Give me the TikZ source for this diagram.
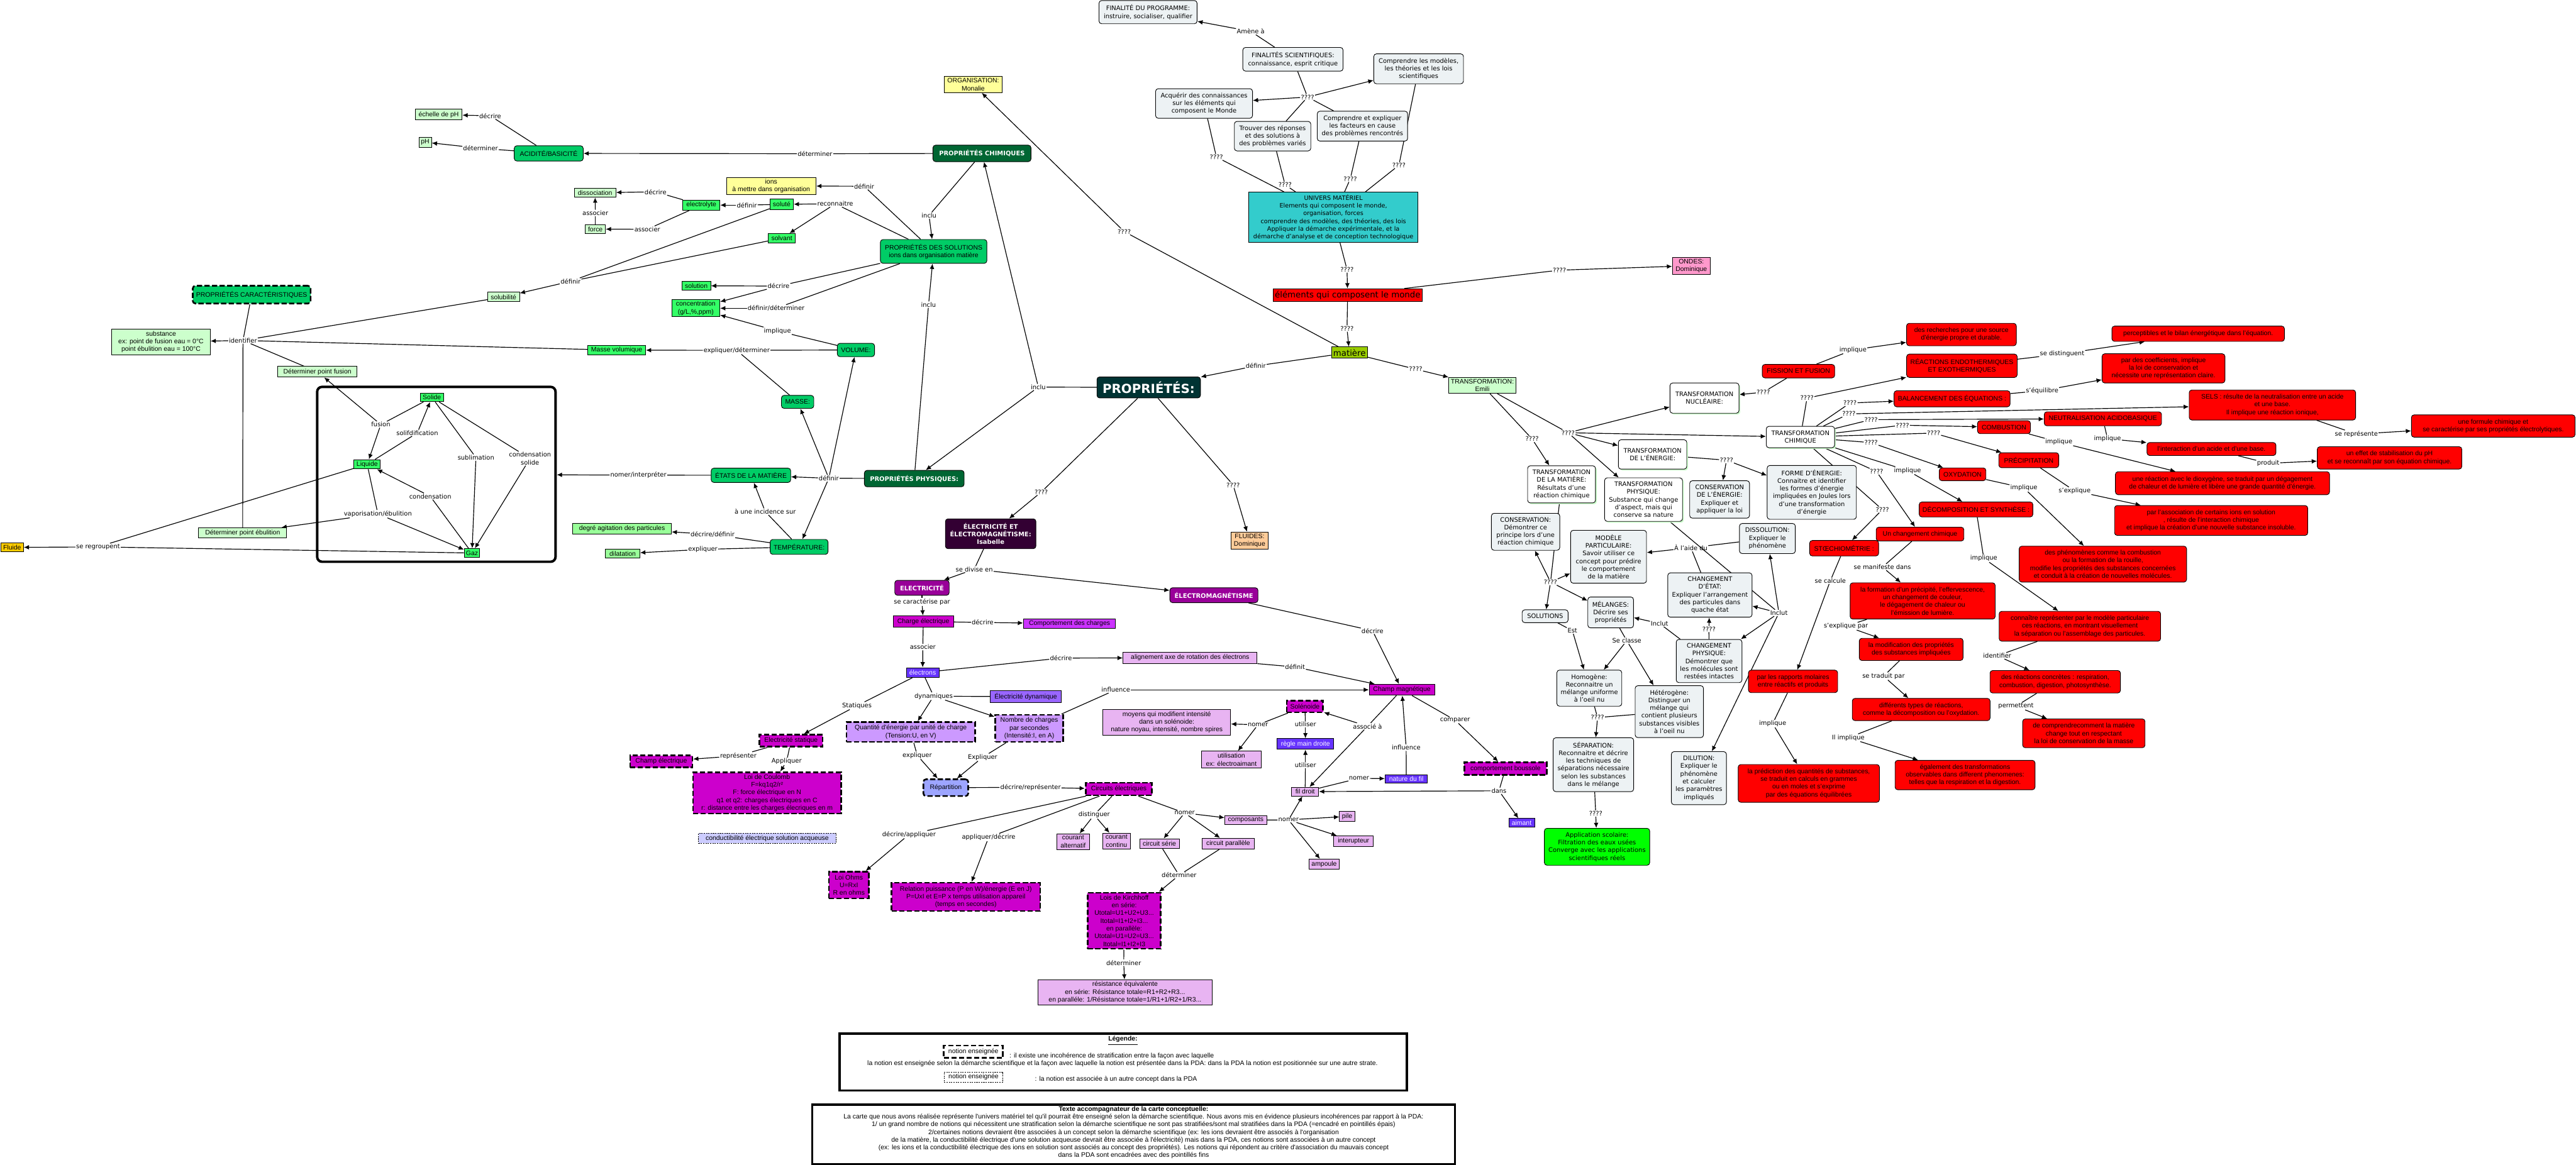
\documentclass[tikz,border=0pt]{standalone}
\usepackage{fontspec}
\setmainfont{DejaVu Sans}
\newfontfamily\arl{Liberation Sans}
\usetikzlibrary{arrows.meta,backgrounds,shadows}

\newcommand\mapfont{\fontsize{3.8}{4.7}\selectfont}
\newcommand\colfont{\arl\fontsize{4.0}{4.7}\selectfont}

\definecolor{cPale}{HTML}{CCFFCC}
\definecolor{cMint}{HTML}{99FF99}
\definecolor{cVivid}{HTML}{33FF66}
\definecolor{cLeaf}{HTML}{00CC66}
\definecolor{cForest}{HTML}{006633}
\definecolor{cAbyss}{HTML}{003333}
\definecolor{cLagoon}{HTML}{33CCCC}
\definecolor{cGrey}{HTML}{EDF2F4}
\definecolor{cCream}{HTML}{FFFF99}
\definecolor{cRose}{HTML}{FF99CC}
\definecolor{cPeach}{HTML}{FFCC99}
\definecolor{cMoss}{HTML}{99CC00}
\definecolor{cAmber}{HTML}{FFCC00}
\definecolor{cScarlet}{HTML}{FF0000}
\definecolor{cAuber}{HTML}{330033}
\definecolor{cGrape}{HTML}{990099}
\definecolor{cOrchid}{HTML}{CC00CC}
\definecolor{cIris}{HTML}{6633FF}
\definecolor{cHelio}{HTML}{CC33FF}
\definecolor{cAmeth}{HTML}{9966FF}
\definecolor{cLilac}{HTML}{CC99FF}
\definecolor{cMauve}{HTML}{E8B4F2}
\definecolor{cPeri}{HTML}{9DA5FF}
\definecolor{cMist}{HTML}{CCCCFF}
\definecolor{cSprout}{HTML}{00FF00}

\tikzset{
  box/.style={draw,line width=0.35pt,inner sep=0.6pt,align=center,font=\colfont},
  note/.style={box,rounded corners=1.6pt,fill=cGrey,font=\mapfont},
  tnode/.style={note,fill=white,drop shadow={shadow xshift=0.8pt,shadow yshift=-0.8pt,fill=cPale,opacity=1}},
  lbl/.style={inner sep=0.3pt,align=center,font=\mapfont},
  rnd/.style={rounded corners=1.6pt},
  wh/.style 2 args={minimum width=#1pt,minimum height=#2pt},
  tdash/.style={line width=1pt,dash pattern=on 3.2pt off 1.4pt},
  fdash/.style={dash pattern=on 0.8pt off 0.6pt},
  lite/.style={text=white,font=\mapfont\bfseries},
  ln/.style={line width=0.45pt},
  ar/.style={ln,-{Latex[length=3.2pt,width=2.8pt]}},
  pale/.style={box,fill=cPale}, mint/.style={box,fill=cMint},
  vivid/.style={box,fill=cVivid}, leaf/.style={box,rnd,fill=cLeaf},
  forest/.style={box,rnd,fill=cForest,lite}, abyss/.style={box,rnd,fill=cAbyss,lite},
  lagoon/.style={box,fill=cLagoon,font=\mapfont}, cream/.style={box,fill=cCream},
  rose/.style={box,fill=cRose}, peach/.style={box,fill=cPeach},
  moss/.style={box,fill=cMoss}, amber/.style={box,fill=cAmber},
  scarlet/.style={box,rnd,fill=cScarlet}, aubergine/.style={box,rnd,fill=cAuber,lite},
  grape/.style={box,rnd,fill=cGrape,lite}, orchid/.style={box,fill=cOrchid},
  iris/.style={box,fill=cIris,text=white}, helio/.style={box,fill=cHelio},
  amethyst/.style={box,fill=cAmeth}, lilac/.style={box,fill=cLilac},
  mauve/.style={box,fill=cMauve}, peri/.style={box,fill=cPeri},
  mist/.style={box,fill=cMist}, sprout/.style={box,rnd,fill=cSprout,font=\mapfont},
}

\begin{document}
\begin{tikzpicture}[x=1pt,y=-1pt]
  \useasboundingbox (0,0) rectangle (1568,709);

  % univers materiel
  \node[note,wh={59.7}{14.1}] (fpro) at (698.8,7.4) {FINALITÉ DU PROGRAMME:\\instruire, socialiser, qualifier};
  \node[note,wh={61}{14.4}] (fsci) at (787,36.1) {FINALITÉS SCIENTIFIQUES:\\connaissance, esprit critique};
  \node[note,wh={59}{18}] (acq) at (732.9,63) {Acquérir des connaissances\\sur les éléments qui\\composent le Monde};
  \node[note,wh={46.5}{18}] (trouv) at (774.6,82.9) {Trouver des réponses\\et des solutions à\\des problèmes variés};
  \node[note,wh={54.6}{18.2}] (cmod) at (863.5,41.9) {Comprendre les modèles,\\les théories et les lois\\scientifiques};
  \node[note,wh={55}{18.2}] (cexp) at (829.3,76.8) {Comprendre et expliquer\\les facteurs en cause\\des problèmes rencontrés};
  \node[lagoon,font=\fontsize{3.7}{4.7}\selectfont,wh={103}{30.6}] (univ) at (811.6,132.3) {UNIVERS MATÉRIEL\\Elements qui composent le monde,\\organisation, forces\\comprendre des modèles, des théories, des lois\\Appliquer la démarche expérimentale, et la\\démarche d'analyse et de conception technologique};
  \node[box,fill=cScarlet,font=\fontsize{5.1}{6}\selectfont,wh={91}{7.8}] (elem) at (820.3,179.7) {éléments qui composent le monde};
  \node[rose,wh={23}{10.4}] (ondes) at (1029.5,161.8) {ONDES:\\Dominique};
  \node[moss,font=\fontsize{5.1}{6}\selectfont,wh={22}{6.9}] (mat) at (821.4,214.7) {matière};
  \node[cream,wh={35.3}{9.8}] (orga) at (592.4,51.5) {ORGANISATION:\\Monalie};

  % proprietes chimiques et solutions
  \node[forest,wh={59.7}{10}] (pchim) at (597.7,93.4) {PROPRIÉTÉS CHIMIQUES};
  \node[leaf,wh={42}{9.3}] (acid) at (334,93.4) {ACIDITÉ/BASICITÉ};
  \node[pale,wh={28.6}{6.5}] (echph) at (267,69.8) {échelle de pH};
  \node[pale,wh={7.7}{6}] (ph) at (258.8,86.6) {pH};
  \node[cream,wh={54.5}{10.4}] (ions) at (469.4,113.2) {ions\\à mettre dans organisation};
  \node[vivid,wh={22.7}{6.2}] (elec) at (426.9,124.9) {electrolyte};
  \node[vivid,wh={14.3}{6.2}] (solute) at (475.8,124.4) {soluté};
  \node[vivid,wh={16.5}{5.6}] (solvant) at (475.9,145) {solvant};
  \node[pale,wh={25.3}{5.3}] (diss) at (362.2,117.4) {dissociation};
  \node[pale,wh={12.3}{5.1}] (force) at (362.4,139.5) {force};
  \node[leaf,wh={64.8}{14.5}] (psol) at (568.3,153.1) {PROPRIÉTÉS DES SOLUTIONS\\ions dans organisation matière};
  \node[pale,wh={19.4}{5.7}] (solubi) at (306.5,180.8) {solubilité};
  \node[vivid,wh={17.6}{5.4}] (solution) at (423.8,174) {solution};
  \node[vivid,wh={29.3}{10.4}] (conc) at (423.5,187.7) {concentration\\(g/L,\%,ppm)};
  \node[leaf,wh={22.7}{8.1}] (volume) at (521,213.1) {VOLUME:};
  \node[vivid,wh={35.2}{5.6}] (mvol) at (375.4,213.2) {Masse volumique};
  \node[leaf,tdash,wh={71.7}{10.8}] (pcar) at (153.2,179.4) {PROPRIÉTÉS CARACTÉRISTIQUES};
  \node[pale,wh={60}{15.6}] (subst) at (98,208.2) {substance\\ex: point de fusion eau = 0°C\\point ébulition eau = 100°C};
  \node[pale,wh={48.3}{6.5}] (dpf) at (193.2,226.4) {Déterminer point fusion};
  \node[pale,wh={53.5}{6.3}] (dpe) at (147.7,324.5) {Déterminer point ébulition};
  \node[draw,line width=1.5pt,rounded corners=3pt,wh={145.1}{106.5}] (phases) at (265.6,288.8) {};
  \node[vivid,wh={14.2}{5.1}] (solide) at (262.9,242) {Solide};
  \node[vivid,wh={16}{5.7}] (liquide) at (223.5,282.7) {Liquide};
  \node[vivid,wh={9.5}{5.3}] (gaz) at (287.3,336.7) {Gaz};
  \node[amber,wh={13.8}{5.4}] (fluide) at (7.4,333.3) {Fluide};

  % proprietes physiques
  \node[forest,wh={60.7}{10}] (pphys) at (556.5,291.4) {PROPRIÉTÉS PHYSIQUES:};
  \node[abyss,font=\fontsize{7.6}{9}\selectfont\bfseries,wh={63}{12.8}] (props) at (699.2,235.9) {PROPRIÉTÉS:};
  \node[leaf,wh={19.7}{7.9}] (masse) at (485.5,244.7) {MASSE:};
  \node[leaf,wh={48.4}{8.7}] (etats) at (457.1,289.4) {ÉTATS DE LA MATIÈRE};
  \node[leaf,wh={35.2}{9.1}] (temp) at (486.4,333) {TEMPÉRATURE:};
  \node[mint,wh={60.1}{6.5}] (degre) at (378.6,322) {degré agitation des particules};
  \node[mint,wh={20.9}{5.3}] (dilat) at (379,337.1) {dilatation};

  % electricite et electromagnetisme
  \node[aubergine,wh={55.1}{18.2}] (eem) at (603,325) {ÉLECTRICITÉ ET\\ÉLECTROMAGNÉTISME:\\Isabelle};
  \node[peach,wh={22.9}{10.3}] (fluides) at (760.6,329.1) {FLUIDES:\\Dominique};
  \node[grape,wh={33.1}{9.1}] (electr) at (561.2,357.9) {ELECTRICITÉ};
  \node[grape,wh={53.6}{9.1}] (emag) at (738.9,362.4) {ÉLECTROMAGNÉTISME};
  \node[orchid,wh={36.7}{6.9}] (charge) at (562,378.4) {Charge électrique};
  \node[helio,wh={56.1}{6}] (comport) at (651,379.7) {Comportement des charges};
  \node[iris,wh={19.9}{5.9}] (elecs) at (561.6,409.5) {électrons};
  \node[mauve,wh={81.6}{6.9}] (align) at (724.4,400.5) {alignement axe de rotation des électrons};
  \node[orchid,wh={39.8}{6.7}] (champm) at (853.3,420) {Champ magnétique};
  \node[orchid,tdash,wh={38.5}{7.3}] (stat) at (481.5,451) {Electricité statique};
  \node[amethyst,wh={43.4}{7.3}] (edyn) at (624.4,424.2) {Électricité dynamique};
  \node[lilac,tdash,wh={78.2}{12.1}] (quant) at (554.4,445.7) {Quantité d'énergie par unité de charge\\(Tension:U, en V)};
  \node[lilac,tdash,wh={41.3}{16.5}] (nomb) at (626.5,443.5) {Nombre de charges\\par secondes\\(Intensité:I, en A)};
  \node[orchid,tdash,wh={37.8}{7.3}] (champe) at (402.5,463.6) {Champ électrique};
  \node[orchid,tdash,wh={90}{25}] (coul) at (466.9,482.8) {Loi de Coulomb\\F=kq1q2/r²\\F: force électrique en N\\q1 et q2: charges électriques en C\\r: distance entre les charges élecriques en m};
  \node[mist,fdash,wh={83.6}{6.1}] (cond) at (467,510.4) {conductibilité électrique solution acqueuse};
  \node[peri,rnd,tdash,wh={27.3}{10.2}] (repart) at (575.7,479.6) {Répartition};
  \node[orchid,tdash,wh={40.3}{7.7}] (circ) at (681,480.4) {Circuits électriques};
  \node[orchid,tdash,wh={24.4}{16.3}] (ohm) at (516.7,538.9) {Loi Ohms\\U=RxI\\R en ohms};
  \node[orchid,tdash,wh={90.4}{17.2}] (puis) at (587.9,546.1) {Relation puissance (P en W)/énergie (E en J)\\P=UxI et E=P x temps utilisation appareil\\(temps en secondes)};
  \node[mauve,wh={19.9}{9.7}] (calt) at (653.2,512.5) {courant\\alternatif};
  \node[mauve,wh={16.7}{9.7}] (ccont) at (679.6,512.1) {courant\\continu};
  \node[mauve,wh={25.5}{5.5}] (compo) at (758.3,499.4) {composants};
  \node[mauve,wh={24.1}{6}] (cser) at (705.7,513.7) {circuit série};
  \node[mauve,wh={31.9}{6.7}] (cpar) at (747.6,513.7) {circuit parallèle};
  \node[orchid,tdash,wh={44.5}{34.1}] (kirch) at (684.3,560.6) {Lois de Kirchhoff\\en série:\\Utotal=U1+U2+U3...\\Itotal=I1+I2+I3...\\en parallèle:\\Utotal=U1=U2=U3...\\Itotal=I1+I2+I3};
  \node[mauve,wh={106}{15.2}] (resist) at (684.8,604.2) {résistance équivalente\\en série: Résistance totale=R1+R2+R3...\\en paralléle: 1/Résistance totale=1/R1+1/R2+1/R3...};
  \node[mauve,wh={9.3}{6}] (pile) at (820,497.1) {pile};
  \node[mauve,wh={24.1}{6.3}] (inter) at (823.9,512.1) {interupteur};
  \node[mauve,wh={18.6}{6}] (ampoule) at (806,526.1) {ampoule};
  \node[mauve,wh={16.5}{5.3}] (fil) at (794.4,482) {fil droit};
  \node[iris,wh={34.4}{6.5}] (regle) at (794.6,453) {règle main droite};
  \node[orchid,tdash,wh={22.1}{7.1}] (solen) at (794.3,430.1) {Solénoide};
  \node[iris,wh={25.8}{5}] (natfil) at (856,474.2) {nature du fil};
  \node[orchid,tdash,wh={50.2}{7.7}] (boussole) at (916.4,468) {comportement boussole};
  \node[iris,wh={15.7}{5.3}] (aimant) at (926.2,501) {aimant};
  \node[mauve,wh={77.8}{15.7}] (moyens) at (710.2,439.7) {moyens qui modifient intensité\\dans un solénoide:\\nature noyau, intensité, nombre spires};
  \node[mauve,wh={36.6}{10.2}] (util) at (749.5,462.5) {utilisation\\ex: électroaimant};

  % transformations
  \node[pale,wh={41}{9.7}] (temi) at (902.3,234.7) {TRANSFORMATION:\\Emili};
  \node[tnode,wh={42}{18.4}] (tnuc) at (1037.5,242.4) {TRANSFORMATION\\NUCLÉAIRE:};
  \node[tnode,wh={41.6}{13}] (tchim) at (1095.9,266.1) {TRANSFORMATION\\CHIMIQUE};
  \node[tnode,wh={41.6}{17.9}] (tener) at (1005.9,276.7) {TRANSFORMATION\\DE L'ÉNERGIE:};
  \node[tnode,wh={41.3}{22.6}] (tmat) at (950.5,294.9) {TRANSFORMATION\\DE LA MATIÈRE:\\Résultats d'une\\réaction chimique};
  \node[tnode,wh={47.4}{26.5}] (tphys) at (1000.4,304.2) {TRANSFORMATION\\PHYSIQUE:\\Substance qui change\\d'aspect, mais qui\\conserve sa nature};
  \node[note,wh={36.4}{22.8}] (consE) at (1046.7,304.1) {CONSERVATION\\DE L'ÉNERGIE:\\Expliquer et\\appliquer la loi};
  \node[note,wh={54.3}{32.8}] (forme) at (1102.8,299.8) {FORME D'ÉNERGIE:\\Connaitre et identifier\\les formes d'énergie\\impliquées en Joules lors\\d'une transformation\\d'énergie};
  \node[note,wh={41.6}{22.5}] (consv) at (928.6,323.8) {CONSERVATION:\\Démontrer ce\\principe lors d'une\\réaction chimique};
  \node[note,wh={46.2}{32.2}] (modele) at (979.1,339) {MODÈLE\\PARTICULAIRE:\\Savoir utiliser ce\\concept pour prédire\\le comportement\\de la matière};
  \node[note,wh={34}{18.3}] (dissol) at (1075.8,327.9) {DISSOLUTION:\\Expliquer le\\phénomène};
  \node[note,wh={51.3}{27}] (chetat) at (1040.8,362.3) {CHANGEMENT\\D'ÉTAT:\\Expliquer l'arrangement\\des particules dans\\quache état};
  \node[note,wh={28}{7.8}] (solus) at (940.5,375.2) {SOLUTIONS};
  \node[note,wh={27.8}{18.8}] (melang) at (980.4,372.9) {MÉLANGES:\\Décrire ses\\propriétés};
  \node[note,wh={40}{26.3}] (chphys) at (1040.3,402.5) {CHANGEMENT\\PHYSIQUE:\\Démontrer que\\les molécules sont\\restées intactes};
  \node[note,wh={39.5}{22}] (homog) at (967.4,419) {Homogène:\\Reconnaitre un\\mélange uniforme\\à l'oeil nu};
  \node[note,wh={41.6}{31.6}] (hetero) at (1016.1,433.3) {Hétérogène:\\Distinguer un\\mélange qui\\contient plusieurs\\substances visibles\\à l'oeil nu};
  \node[note,wh={49}{32.8}] (separ) at (969.9,465.6) {SÉPARATION:\\Reconnaitre et décrire\\les techniques de\\séparations nécessaire\\selon les substances\\dans le mélange};
  \node[sprout,wh={64.1}{22.5}] (appli) at (972.1,515.6) {Application scolaire:\\Filtration des eaux usées\\Converge avec les applications\\scientifiques réels};
  \node[note,wh={33.5}{32.3}] (dilut) at (1034.1,473.8) {DILUTION:\\Expliquer le\\phénomène\\et calculer\\les paramètres\\impliqués};

  % transformation chimique
  \node[scarlet,wh={44.1}{8.2}] (fission) at (1094.7,226) {FISSION ET FUSION};
  \node[scarlet,wh={66.8}{13.7}] (rech) at (1193.9,203.7) {des recherches pour une source\\d’énergie propre et durable.};
  \node[scarlet,wh={67.3}{14.2}] (reac) at (1194.2,222.7) {RÉACTIONS ENDOTHERMIQUES\\ET EXOTHERMIQUES};
  \node[scarlet,wh={105}{9.3}] (percep) at (1338,203.2) {perceptibles et le bilan énergétique dans l’équation.};
  \node[scarlet,wh={74.8}{17.8}] (coef) at (1316.9,224.3) {par des coefficients, implique\\la loi de conservation et\\nécessite une représentation claire.};
  \node[scarlet,wh={70.6}{9.8}] (balan) at (1188.2,242.8) {BALANCEMENT DES ÉQUATIONS :};
  \node[scarlet,wh={101.3}{18.3}] (sels) at (1383.2,246.6) {SELS : résulte de la neutralisation entre un acide\\et une base.\\Il implique une réaction ionique,};
  \node[scarlet,wh={71.4}{8.5}] (neutra) at (1280,255) {NEUTRALISATION ACIDOBASIQUE};
  \node[scarlet,wh={32.2}{7.9}] (combu) at (1219.8,260.1) {COMBUSTION};
  \node[scarlet,wh={36.5}{9.1}] (precip) at (1234.9,280.2) {PRÉCIPITATION};
  \node[scarlet,wh={28.4}{7.8}] (oxyd) at (1194.6,288.8) {OXYDATION};
  \node[scarlet,wh={69.2}{9.1}] (decomp) at (1202.8,310.2) {DÉCOMPOSITION ET SYNTHÈSE :};
  \node[scarlet,wh={53.4}{8.4}] (chgt) at (1168.7,325.2) {Un changement chimique};
  \node[scarlet,wh={42}{9.4}] (stoech) at (1122.5,333.8) {STŒCHIOMÉTRIE :};
  \node[scarlet,wh={88.3}{22.1}] (formp) at (1170.3,365.9) {la formation d’un précipité, l’effervescence,\\un changement de couleur,\\le dégagement de chaleur ou\\l’émission de lumière.};
  \node[scarlet,wh={63.2}{13.5}] (modif) at (1163.3,395.4) {la modification des propriétés\\des substances impliquées};
  \node[scarlet,wh={83.9}{13.5}] (types) at (1169.4,432) {différents types de réactions,\\comme la décomposition ou l’oxydation.};
  \node[scarlet,wh={85.2}{17.9}] (egal) at (1196.1,471.9) {également des transformations\\observables dans different phenomenes:\\telles que la respiration et la digestion.};
  \node[scarlet,wh={54.3}{13.7}] (rapp) at (1091.4,414.9) {par les rapports molaires\\entre réactifs et produits};
  \node[scarlet,wh={86}{23}] (predic) at (1101,477) {la prédiction des quantités de substances,\\se traduit en calculs en grammes\\ou en moles et s’exprime\\par des équations équilibrées};
  \node[scarlet,wh={78.5}{7.9}] (interac) at (1346.1,273.4) {l’interaction d’un acide et d’une base.};
  \node[scarlet,wh={88}{13.6}] (effet) at (1454.5,278.8) {un effet de stabilisation du pH\\et se reconnaît par son équation chimique.};
  \node[scarlet,wh={99.6}{13.6}] (formule) at (1517.6,259.4) {une formule chimique et\\se caractérise par ses propriétés électrolytiques.};
  \node[scarlet,wh={130.3}{14}] (oxyg) at (1352.8,294.2) {une réaction avec le dioxygène, se traduit par un dégagement\\de chaleur et de lumière et libère une grande quantité d’énergie.};
  \node[scarlet,wh={117.6}{18.2}] (assoc) at (1345.9,316.9) {par l’association de certains ions en solution\\, résulte de l’interaction chimique\\et implique la création d’une nouvelle substance insoluble.};
  \node[scarlet,wh={101.9}{21.9}] (phenom) at (1280,343.5) {des phénomènes comme la combustion\\ou la formation de la rouille,\\modifie les propriétés des substances concernées\\et conduit à la création de nouvelles molécules.};
  \node[scarlet,wh={98.3}{18.2}] (connai) at (1266,381.3) {connaître représenter par le modèle particulaire\\ces réactions, en montrant visuellement\\la séparation ou l’assemblage des particules.};
  \node[scarlet,wh={79.4}{13.7}] (concr) at (1251,415.1) {des réactions concrètes : respiration,\\combustion, digestion, photosynthèse.};
  \node[scarlet,wh={74.5}{17.5}] (compr) at (1268.4,446.5) {de comprendrecomment la matière\\change tout en respectant\\la loi de conservation de la masse};

  % linking phrases
  \node[lbl] (lamene) at (761.3,19.1) {Amène à};
  \node[lbl] (lq1) at (795.9,59.1) {????};
  \node[lbl] (lq2) at (740.4,95.6) {????};
  \node[lbl] (lq3) at (782.2,112.5) {????};
  \node[lbl] (lq4) at (821.9,108.9) {????};
  \node[lbl] (lq5) at (851.5,100.6) {????};
  \node[lbl] (lq6) at (819.9,164.1) {????};
  \node[lbl] (lq7) at (949.2,164.5) {????};
  \node[lbl] (lq8) at (819.9,200.1) {????};
  \node[lbl] (lq9) at (684.3,141) {????};
  \node[lbl] (ldef0) at (764.4,222.8) {définir};
  \node[lbl] (lq10) at (861.7,224.8) {????};
  \node[lbl] (ldecr1) at (298.4,70.5) {décrire};
  \node[lbl] (ldet1) at (292.5,90.3) {déterminer};
  \node[lbl] (ldet2) at (496.1,93.6) {déterminer};
  \node[lbl] (ldef1) at (526,113.4) {définir};
  \node[lbl] (ldef2) at (454.6,124.9) {définir};
  \node[lbl] (lrec) at (508.4,124.1) {reconnaitre};
  \node[lbl] (ldecr2) at (399,116.8) {décrire};
  \node[lbl] (lass1) at (394,139.6) {associer};
  \node[lbl] (lass2) at (362.4,129.7) {associer};
  \node[lbl] (ldef3) at (347.3,171.3) {définir};
  \node[lbl] (lincl1) at (565.5,131.2) {inclu};
  \node[lbl] (lincl2) at (565.2,185.5) {inclu};
  \node[lbl] (lincl3) at (632,235.7) {inclu};
  \node[lbl] (ldecr3) at (473.9,174.2) {décrire};
  \node[lbl] (ldefdet) at (472.4,187.7) {définir/déterminer};
  \node[lbl] (limpl1) at (473.2,201.5) {implique};
  \node[lbl] (lexpl1) at (448.4,213.3) {expliquer/déterminer};
  \node[lbl] (lident) at (147.9,207.3) {identifier};
  \node[lbl] (lfus) at (231.8,258.5) {fusion};
  \node[lbl] (lsolid) at (254,263.6) {solifdification};
  \node[lbl] (lsubl) at (289.7,278.6) {sublimation};
  \node[lbl] (lconds) at (322.6,279.2) {condensation\\solide};
  \node[lbl] (lcond) at (261.9,302.2) {condensation};
  \node[lbl] (lvap) at (230,312.9) {vaporisation/ébulition};
  \node[lbl] (lregr) at (59.7,333) {se regroupent};
  \node[lbl] (lnomer) at (388.6,289.3) {nomer/interpréter};
  \node[lbl] (ldef4) at (504.5,291.2) {définir};
  \node[lbl] (linc) at (465.8,311.5) {à une incidence sur};
  \node[lbl] (ldecdef) at (433.7,325.4) {décrire/définir};
  \node[lbl] (lexpl2) at (427.8,334.5) {expliquer};
  \node[lbl] (lq11) at (633.8,299.6) {????};
  \node[lbl] (lq12) at (750.6,295.3) {????};
  \node[lbl] (ldiv) at (593,346.6) {se divise en};
  \node[lbl] (lcar) at (561.2,366.6) {se caractérise par};
  \node[lbl] (ldecr4) at (598.1,379) {décrire};
  \node[lbl] (lass3) at (561.7,394) {associer};
  \node[lbl] (ldecr5) at (645.8,400.7) {décrire};
  \node[lbl] (ldefit) at (788.3,406.1) {définit};
  \node[lbl] (ldecr6) at (835.4,384) {décrire};
  \node[lbl] (lstat) at (521.6,429.7) {Statiques};
  \node[lbl] (ldyn) at (568.3,423.9) {dynamiques};
  \node[lbl] (linfl1) at (679.2,420) {influence};
  \node[lbl] (lrepr) at (449.4,460.2) {représenter};
  \node[lbl] (lappl) at (478.8,463.6) {Appliquer};
  \node[lbl] (lexpl3) at (558.3,459.9) {expliquer};
  \node[lbl] (lexpl4) at (598.1,461.1) {Expliquer};
  \node[lbl] (ldecrep) at (627.3,479.4) {décrire/représenter};
  \node[lbl] (ldecapp) at (553.3,508.1) {décrire/appliquer};
  \node[lbl] (lappdec) at (601.8,509.8) {appliquer/décrire};
  \node[lbl] (ldist) at (666,496.2) {distinguer};
  \node[lbl] (lnom1) at (721.1,495) {nomer};
  \node[lbl] (ldet3) at (717.7,532.9) {déterminer};
  \node[lbl] (ldet4) at (684,586.2) {déterminer};
  \node[lbl] (lnom2) at (784.3,499.2) {nomer};
  \node[lbl] (lutil1) at (794.6,465.8) {utiliser};
  \node[lbl] (lutil2) at (794.6,441.1) {utiliser};
  \node[lbl] (lassoc) at (832.4,442.2) {associé à};
  \node[lbl] (lnom3) at (827.2,473.9) {nomer};
  \node[lbl] (linfl2) at (855.9,455.2) {influence};
  \node[lbl] (lcomp) at (885.7,438.5) {comparer};
  \node[lbl] (ldans) at (912.4,481.5) {dans};
  \node[lbl] (lnom4) at (765.7,441.3) {nomer};
  \node[lbl] (lq13) at (1073.3,238.8) {????};
  \node[lbl] (lq14) at (954.5,263.5) {????};
  \node[lbl] (lq15) at (932.6,267.3) {????};
  \node[lbl] (lq16) at (1050.9,280.2) {????};
  \node[lbl] (lq17) at (943.8,354.4) {????};
  \node[lbl] (laide) at (1029.2,333.5) {À l'aide du};
  \node[lbl] (lincl4) at (1082.8,373.2) {Inclut};
  \node[lbl] (lincl5) at (1010.1,379.6) {Inclut};
  \node[lbl] (lq18) at (1040.2,383) {????};
  \node[lbl] (lest) at (957.1,384) {Est};
  \node[lbl] (lclass) at (990.2,390.1) {Se classe};
  \node[lbl] (lq19) at (972.4,436.9) {????};
  \node[lbl] (lq20) at (971.3,495.3) {????};
  \node[lbl] (lq21) at (1099.9,242.4) {????};
  \node[lbl] (lq22) at (1126.1,245.4) {????};
  \node[lbl] (lq23) at (1125.4,252) {????};
  \node[lbl] (lq24) at (1138.9,255.5) {????};
  \node[lbl] (lq25) at (1158,258.9) {????};
  \node[lbl] (lq26) at (1177,263.7) {????};
  \node[lbl] (lq27) at (1138.9,269.5) {????};
  \node[lbl] (limpl2) at (1161.1,286.5) {implique};
  \node[lbl] (lq28) at (1142.2,287.1) {????};
  \node[lbl] (lq29) at (1145.8,310.3) {????};
  \node[lbl] (limpl3) at (1127.9,213) {implique};
  \node[lbl] (ldist2) at (1255.2,215.5) {se distinguent};
  \node[lbl] (lequi) at (1243,237.9) {s’équilibre};
  \node[lbl] (lrepr2) at (1434.3,264.3) {se représente};
  \node[lbl] (limpl4) at (1282.8,267.1) {implique};
  \node[lbl] (lprod) at (1380.6,282.1) {produit};
  \node[lbl] (limpl5) at (1253.2,269.2) {implique};
  \node[lbl] (lexpl5) at (1262.8,298.9) {s’explique};
  \node[lbl] (limpl6) at (1231.9,297.1) {implique};
  \node[lbl] (limpl7) at (1207.5,340) {implique};
  \node[lbl] (lident2) at (1215.7,399.3) {identifier};
  \node[lbl] (lperm) at (1227.1,430) {permettent};
  \node[lbl] (lmanif) at (1145.8,345.3) {se manifeste dans};
  \node[lbl] (lcalc) at (1114.1,353.6) {se calcule};
  \node[lbl] (lexpl6) at (1123.6,381.3) {s’explique par};
  \node[lbl] (ltrad) at (1146.5,411.7) {se traduit par};
  \node[lbl] (limpl8) at (1125,449.2) {Il implique};
  \node[lbl] (limpl9) at (1079,440.6) {implique};

  % legende et texte
  \node[draw,line width=1.3pt,wh={345.3}{34.5}] (leg) at (683.75,646.65) {};
  \node[lbl,font=\colfont\bfseries] (legt) at (683.5,633.7) {\underline{Légende:}};
  \node[box,tdash,fill=white,wh={36}{7.5}] (leg1) at (592.5,640.4) {notion enseignée};
  \node[lbl,font=\colfont,anchor=west] (leg1t) at (614,643) {: il existe une incohérence de stratification entre la façon avec laquelle};
  \node[lbl,font=\colfont] (leg2t) at (683.3,647.7) {la notion est enseignée selon la démarche scientifique et la façon avec laquelle la notion est présentée dans la PDA: dans la PDA la notion est positionnée sur une autre strate.};
  \node[box,fdash,fill=white,wh={35.8}{6.1}] (leg2) at (592.6,655.8) {notion enseignée};
  \node[lbl,font=\colfont,anchor=west] (leg3t) at (629.5,657.1) {: la notion est associée à un autre concept dans la PDA};
  \node[draw,line width=1.3pt,wh={391.2}{36.2}] (txtbox) at (690,690.7) {};
  \node[lbl,font=\colfont,align=center] (txt) at (690,689.6) {\textbf{Texte accompagnateur de la carte conceptuelle:}\\
    La carte que nous avons réalisée représente l'univers matériel tel qu'il pourrait être enseigné selon la démarche scientifique. Nous avons mis en évidence plusieurs incohérences par rapport à la PDA:\\
    1/ un grand nombre de notions qui nécessitent une stratification selon la démarche scientifique ne sont pas stratifiées/sont mal stratifiées dans la PDA (=encadré en pointillés épais)\\
    2/certaines notions devraient être associées à un concept selon la démarche scientifique (ex: les ions devraient être associés à l'organisation\\
    de la matière, la conductibilité électrique d'une solution acqueuse devrait être associée à l'électricité) mais dans la PDA, ces notions sont associées à un autre concept\\
    (ex: les ions et la conductibilité électrique des ions en solution sont associés au concept des propriétés). Les notions qui répondent au critère d'association du mauvais concept\\
    dans la PDA sont encadrées avec des pointillés fins};

  \begin{scope}[on background layer]
    \fill[white] (0,0) rectangle (1568,709);
    % univers materiel
    \draw[ln] (fsci) -- (lamene) edge[ar] (fpro);
    \draw[ln] (fsci) -- (lq1) edge[ar] (acq) edge[ar] (cmod) edge (trouv) edge (cexp);
    \draw[ln] (acq) -- (lq2) -- (univ);
    \draw[ln] (trouv) -- (lq3) -- (univ);
    \draw[ln] (cexp) -- (lq4) -- (univ);
    \draw[ln] (cmod) -- (lq5) -- (univ);
    \draw[ln] (univ) -- (lq6) edge[ar] (elem);
    \draw[ln] (elem) -- (lq7) edge[ar] (ondes);
    \draw[ln] (elem) -- (lq8) edge[ar] (mat);
    \draw[ln] (mat) -- (lq9) edge[ar] (orga);
    \draw[ln] (mat) -- (ldef0) edge[ar] (props);
    \draw[ln] (mat) -- (lq10) edge[ar] (temi);
    % chimie et solutions
    \draw[ln] (acid) -- (ldecr1) edge[ar] (echph);
    \draw[ln] (acid) -- (ldet1) edge[ar] (ph);
    \draw[ln] (pchim) -- (ldet2) edge[ar] (acid);
    \draw[ln] (psol) -- (ldef1) edge[ar] (ions);
    \draw[ln] (solute) -- (ldef2) edge[ar] (elec);
    \draw[ln] (psol) -- (lrec) edge[ar] (solute) edge[ar] (solvant);
    \draw[ln] (elec) -- (ldecr2) edge[ar] (diss);
    \draw[ln] (elec) -- (lass1) edge[ar] (force);
    \draw[ln] (force) -- (lass2) edge[ar] (diss);
    \draw[ln] (solute) -- (ldef3) -- (solvant);
    \draw[ar] (ldef3) -- (solubi);
    \draw[ln] (pchim) -- (lincl1) edge[ar] (psol);
    \draw[ln] (pphys) -- (lincl2) edge[ar] (psol);
    \draw[ln] (props) -- (lincl3) edge[ar] (pchim) edge[ar] (pphys);
    \draw[ln] (psol) -- (ldecr3) edge[ar] (solution) edge[ar] (conc);
    \draw[ln] (psol) -- (ldefdet) edge[ar] (conc);
    \draw[ln] (volume) -- (limpl1) edge[ar] (conc);
    \draw[ln] (volume) -- (lexpl1) -- (masse);
    \draw[ar] (lexpl1) -- (mvol);
    \draw[ln] (pcar) -- (lident) -- (solubi);
    \draw[ln] (mvol) -- (lident) -- (dpf);
    \draw[ln] (lident) -- (dpe);
    \draw[ar] (lident) -- (subst);
    % etats de la matiere
    \draw[ln] (solide) -- (lfus) edge[ar] (liquide) edge[ar] (dpf);
    \draw[ln] (liquide) -- (lsolid) edge[ar] (solide);
    \draw[ln] (solide) -- (lsubl) edge[ar] (gaz);
    \draw[ln] (solide) -- (lconds) edge[ar] (gaz);
    \draw[ln] (gaz) -- (lcond) edge[ar] (liquide);
    \draw[ln] (liquide) -- (lvap) edge[ar] (gaz) edge[ar] (dpe);
    \draw[ln] (liquide) -- (lregr) -- (gaz);
    \draw[ar] (lregr) -- (fluide);
    \draw[ln] (etats) -- (lnomer) edge[ar] (phases);
    \draw[ln] (pphys) -- (ldef4) edge[ar] (etats) edge[ar] (masse) edge[ar] (volume) edge[ar] (temp);
    \draw[ln] (temp) -- (linc) edge[ar] (etats);
    \draw[ln] (temp) -- (ldecdef) edge[ar] (degre);
    \draw[ln] (temp) -- (lexpl2) edge[ar] (dilat);
    % electricite
    \draw[ln] (props) -- (lq11) edge[ar] (eem);
    \draw[ln] (props) -- (lq12) edge[ar] (fluides);
    \draw[ln] (eem) -- (ldiv) edge[ar] (electr) edge[ar] (emag);
    \draw[ln] (electr) -- (lcar) edge[ar] (charge);
    \draw[ln] (charge) -- (ldecr4) edge[ar] (comport);
    \draw[ln] (charge) -- (lass3) edge[ar] (elecs);
    \draw[ln] (elecs) -- (ldecr5) edge[ar] (align);
    \draw[ln] (align) -- (ldefit) edge[ar] (champm);
    \draw[ln] (emag) -- (ldecr6) edge[ar] (champm);
    \draw[ln] (elecs) -- (lstat) edge[ar] (stat);
    \draw[ln] (elecs) -- (ldyn) edge (edyn) edge[ar] (quant) edge[ar] (nomb);
    \draw[ln] (nomb) -- (linfl1) edge[ar] (champm);
    \draw[ln] (stat) -- (lrepr) edge[ar] (champe);
    \draw[ln] (stat) -- (lappl) edge[ar] (coul);
    \draw[ln] (quant) -- (lexpl3) edge[ar] (repart);
    \draw[ln] (nomb) -- (lexpl4) edge[ar] (repart);
    \draw[ln] (repart) -- (ldecrep) edge[ar] (circ);
    \draw[ln] (circ) -- (ldecapp) edge[ar] (ohm);
    \draw[ln] (circ) -- (lappdec) edge[ar] (puis);
    \draw[ln] (circ) -- (ldist) edge[ar] (calt) edge[ar] (ccont);
    \draw[ln] (circ) -- (lnom1) edge[ar] (compo) edge[ar] (cser) edge[ar] (cpar);
    \draw[ln] (cser) -- (ldet3) -- (cpar);
    \draw[ar] (ldet3) -- (kirch);
    \draw[ln] (kirch) -- (ldet4) edge[ar] (resist);
    \draw[ln] (compo) -- (lnom2) edge[ar] (fil) edge[ar] (pile) edge[ar] (inter) edge[ar] (ampoule);
    \draw[ln] (fil) -- (lutil1) edge[ar] (regle);
    \draw[ln] (solen) -- (lutil2) edge[ar] (regle);
    \draw[ln] (champm) -- (lassoc) edge[ar] (solen) edge[ar] (fil);
    \draw[ln] (fil) -- (lnom3) edge[ar] (natfil);
    \draw[ln] (natfil) -- (linfl2) edge[ar] (champm);
    \draw[ln] (champm) -- (lcomp) edge[ar] (boussole);
    \draw[ln] (boussole) -- (ldans) edge[ar] (fil) edge[ar] (aimant);
    \draw[ln] (solen) -- (lnom4) edge[ar] (moyens) edge[ar] (util);
    % transformations
    \draw[ln] (fission) -- (lq13) edge[ar] (tnuc);
    \draw[ln] (temi) -- (lq14) edge[ar] (tnuc) edge[ar] (tchim) edge[ar] (tener) edge[ar] (tphys);
    \draw[ln] (temi) -- (lq15) edge[ar] (tmat);
    \draw[ln] (tener) -- (lq16) edge[ar] (consE) edge[ar] (forme);
    \draw[ln] (tmat) -- (lq17) edge[ar] (consv) edge[ar] (modele) edge[ar] (solus) edge[ar] (melang);
    \draw[ln] (dissol) -- (laide) -- (chetat);
    \draw[ar] (laide) -- (modele);
    \draw[ln] (tphys) -- (lincl4) edge[ar] (chetat) edge[ar] (dissol) edge[ar] (chphys) edge[ar] (dilut);
    \draw[ln] (chphys) -- (lincl5) edge[ar] (melang);
    \draw[ln] (chphys) -- (lq18) edge[ar] (chetat);
    \draw[ln] (solus) -- (lest) edge[ar] (homog);
    \draw[ln] (melang) -- (lclass) edge[ar] (homog) edge[ar] (hetero);
    \draw[ln] (homog) -- (lq19) -- (hetero);
    \draw[ar] (lq19) -- (separ);
    \draw[ln] (separ) -- (lq20) edge[ar] (appli);
    % transformation chimique
    \draw[ln] (tchim) -- (lq21) edge[ar] (reac);
    \draw[ln] (tchim) -- (lq22) edge[ar] (balan);
    \draw[ln] (tchim) -- (lq23) edge[ar] (sels);
    \draw[ln] (tchim) -- (lq24) edge[ar] (neutra);
    \draw[ln] (tchim) -- (lq25) edge[ar] (combu);
    \draw[ln] (tchim) -- (lq26) edge[ar] (precip);
    \draw[ln] (tchim) -- (lq27) edge[ar] (oxyd);
    \draw[ln] (tchim) -- (limpl2) edge[ar] (decomp);
    \draw[ln] (tchim) -- (lq28) edge[ar] (chgt);
    \draw[ln] (tchim) -- (lq29) edge[ar] (stoech);
    \draw[ln] (fission) -- (limpl3) edge[ar] (rech);
    \draw[ln] (reac) -- (ldist2) edge[ar] (percep);
    \draw[ln] (balan) -- (lequi) edge[ar] (coef);
    \draw[ln] (sels) -- (lrepr2) edge[ar] (formule);
    \draw[ln] (neutra) -- (limpl4) edge[ar] (interac);
    \draw[ln] (interac) -- (lprod) edge[ar] (effet);
    \draw[ln] (combu) -- (limpl5) edge[ar] (oxyg);
    \draw[ln] (precip) -- (lexpl5) edge[ar] (assoc);
    \draw[ln] (oxyd) -- (limpl6) edge[ar] (phenom);
    \draw[ln] (decomp) -- (limpl7) edge[ar] (connai);
    \draw[ln] (connai) -- (lident2) edge[ar] (concr);
    \draw[ln] (concr) -- (lperm) edge[ar] (compr);
    \draw[ln] (chgt) -- (lmanif) edge[ar] (formp);
    \draw[ln] (stoech) -- (lcalc) edge[ar] (rapp);
    \draw[ln] (formp) -- (lexpl6) edge[ar] (modif);
    \draw[ln] (modif) -- (ltrad) edge[ar] (types);
    \draw[ln] (types) -- (limpl8) edge[ar] (egal);
    \draw[ln] (rapp) -- (limpl9) edge[ar] (predic);
  \end{scope}
\end{tikzpicture}
\end{document}
